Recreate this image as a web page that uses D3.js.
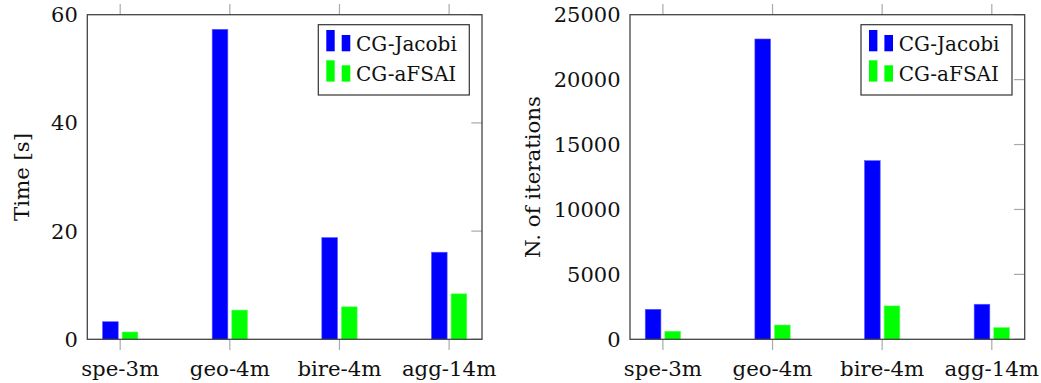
<!DOCTYPE html>
<html>
<head>
<meta charset="utf-8">
<script src="https://cdn.jsdelivr.net/npm/d3@7"></script>
<style>
  body { margin: 0; background: #fff; }
</style>
</head>
<body>
<div id="chart"></div>
<script>
// data
var categories = ["spe-3m", "geo-4m", "bire-4m", "agg-14m"];
var seriesNames = ["CG-Jacobi", "CG-aFSAI"];
var timeJacobi = [3.25, 57.3, 18.8, 16.1];
var timeAfsai = [1.35, 5.4, 6.0, 8.4];
var itJacobi = [2310, 23130, 13760, 2700];
var itAfsai = [620, 1100, 2570, 900];
var timeTicks = [0, 20, 40, 60];
var itTicks = [0, 5000, 10000, 15000, 20000, 25000];

var colors = ["#0000ff", "#00ff00"];
var serif = "'DejaVu Serif', serif";

var svg = d3.select("#chart")
  .append("svg")
  .attr("width", 1041)
  .attr("height", 383)
  .attr("font-family", serif);

function label(sel, size) {
  return sel.attr("font-family", serif)
    .style("font-family", serif)
    .style("font-size", size + "px")
    .style("fill", "#111");
}

function panel(left, ymax, ticks, series, ylabel, labelX) {
  var box = { left: left, right: left + 394.7, top: 14.7, bottom: 339.3 };

  var x = d3.scalePoint()
    .domain(categories)
    .range([box.left, box.right])
    .padding(0.3);
  var step = x.step();

  var y = d3.scaleLinear()
    .domain([0, ymax])
    .range([box.bottom, box.top]);

  var g = svg.append("g");

  // x ticks, outward top and bottom
  g.selectAll(".xt")
    .data(categories)
    .enter()
    .append("line")
    .attr("x1", function(d) { return x(d); })
    .attr("x2", function(d) { return x(d); })
    .attr("y1", box.top - 10.7)
    .attr("y2", box.top)
    .style("stroke", "#aaa")
    .style("stroke-width", 1.2);
  g.selectAll(".xb")
    .data(categories)
    .enter()
    .append("line")
    .attr("x1", function(d) { return x(d); })
    .attr("x2", function(d) { return x(d); })
    .attr("y1", box.bottom)
    .attr("y2", box.bottom + 10.7)
    .style("stroke", "#aaa")
    .style("stroke-width", 1.2);

  // y ticks on the right, inward
  g.selectAll(".yr")
    .data(ticks)
    .enter()
    .append("line")
    .attr("x1", box.right - 10.7)
    .attr("x2", box.right)
    .attr("y1", function(d) { return y(d); })
    .attr("y2", function(d) { return y(d); })
    .style("stroke", "#aaa")
    .style("stroke-width", 1.2);

  // bars
  var offs = [-0.0895 * step, 0.0895 * step];
  var bw = 0.143 * step;
  series.forEach(function(vals, si) {
    g.selectAll(".bar" + si)
      .data(vals)
      .enter()
      .append("rect")
      .attr("x", function(d, i) { return x(categories[i]) + offs[si] - bw / 2; })
      .attr("y", function(d) { return y(d); })
      .attr("width", bw)
      .attr("height", function(d) { return y(0) - y(d); })
      .style("fill", colors[si])
      .style("stroke", si == 0 ? "#5a5aff" : "#5aff5a")
      .style("stroke-width", 0.6);
  });

  // frame
  g.append("rect")
    .attr("x", box.left)
    .attr("y", box.top)
    .attr("width", box.right - box.left)
    .attr("height", box.bottom - box.top)
    .style("fill", "none")
    .style("stroke", "#444")
    .style("stroke-width", 1.3);

  // y tick labels
  label(g.selectAll(".yl")
    .data(ticks)
    .enter()
    .append("text")
    .attr("x", box.left - 9.5)
    .attr("y", function(d) { return y(d); })
    .attr("dy", "0.36em")
    .attr("text-anchor", "end"), 21)
    .text(function(d) { return d; });

  // x tick labels
  label(g.selectAll(".xl")
    .data(categories)
    .enter()
    .append("text")
    .attr("x", function(d) { return x(d); })
    .attr("y", 376)
    .attr("text-anchor", "middle"), 21.3)
    .text(function(d) { return d; });

  // y axis title
  label(g.append("text")
    .attr("transform", "translate(" + labelX + "," + (box.top + box.bottom) / 2 + ") rotate(-90)")
    .attr("text-anchor", "middle"), 21.3)
    .text(ylabel);

  // legend
  var lx = box.right - 12.7 - 151, ly = box.top + 10;
  var lg = g.append("g").attr("transform", "translate(" + lx + "," + ly + ")");
  lg.append("rect")
    .attr("width", 151)
    .attr("height", 70.3)
    .style("fill", "#fff")
    .style("stroke", "#333")
    .style("stroke-width", 1.2);
  seriesNames.forEach(function(name, si) {
    var base = 26.6 + si * 30.3;
    lg.append("rect")
      .attr("x", 8).attr("y", base - 21.3)
      .attr("width", 8.4).attr("height", 21.3)
      .style("fill", colors[si]);
    lg.append("rect")
      .attr("x", 23.4).attr("y", base - 16.3)
      .attr("width", 8.6).attr("height", 16.3)
      .style("fill", colors[si]);
    label(lg.append("text")
      .attr("x", 37.7)
      .attr("y", base - 0.5), 20)
      .text(name);
  });
}

panel(87.3, 60, timeTicks, [timeJacobi, timeAfsai], "Time [s]", 29);
panel(630, 25000, itTicks, [itJacobi, itAfsai], "N. of iterations", 539.5);
</script>
</body>
</html>
